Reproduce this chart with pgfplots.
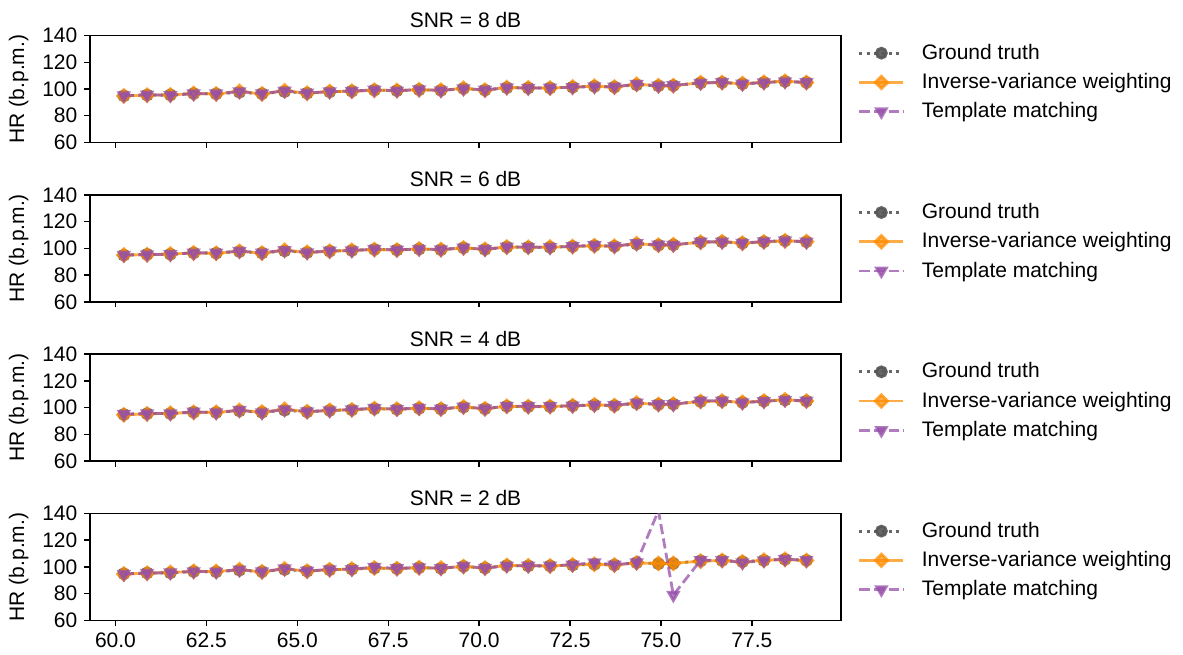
\documentclass[border=0pt]{standalone}
\usepackage{fontspec}
\setmainfont{Liberation Sans}
\usepackage{pgfplots}
\usepackage{pgfplotstable}
\pgfplotsset{compat=1.18}
\usepgfplotslibrary{groupplots}
\definecolor{gtc}{RGB}{85,85,85}
\definecolor{ivw}{RGB}{255,140,0}
\definecolor{tmc}{RGB}{150,80,170}

\pgfplotstableread{
x gt i8 t8 i6 t6 i4 t4 i2 t2
60.23 94.9 94.8 95.1 95.0 94.9 94.6 95.2 94.7 94.6
60.87 95.5 95.4 95.6 95.2 95.3 95.3 95.5 95.3 95.4
61.51 95.6 95.5 95.3 95.7 95.5 95.8 95.6 95.9 95.7
62.15 96.6 96.7 96.5 96.5 96.6 96.4 96.8 96.7 96.6
62.77 96.4 96.3 96.5 96.3 96.6 96.5 96.3 96.6 96.4
63.41 97.6 98.2 98.1 97.8 97.9 97.9 98.1 98.0 97.9
64.03 96.5 96.3 96.6 96.4 96.7 96.6 96.3 96.3 96.5
64.65 98.1 98.7 98.6 98.6 98.5 98.8 98.6 98.6 98.7
65.27 96.9 96.8 97.1 97.0 96.8 96.9 97.1 96.8 97.0
65.89 97.9 98.1 98.0 97.8 98.1 98.0 97.8 97.9 98.1
66.50 98.4 98.3 98.5 98.5 98.3 98.3 98.6 98.4 98.3
67.12 99.2 99.1 99.3 99.0 99.4 99.3 99.6 99.2 99.9
67.74 98.8 98.9 98.7 98.7 98.9 98.8 98.9 98.7 98.9
68.35 99.5 99.4 99.6 99.6 99.4 99.5 99.7 99.4 99.6
68.95 99.0 99.1 98.9 99.0 99.1 98.9 99.1 99.1 99.0
69.57 100.4 100.5 100.3 100.2 100.4 100.5 100.6 100.3 100.5
70.16 99.2 99.1 99.3 99.3 99.2 99.1 99.2 99.2 99.1
70.76 101.0 101.1 101.0 100.9 101.1 101.0 101.2 101.1 100.9
71.35 100.8 100.9 100.7 100.8 101.0 100.7 100.9 100.9 100.8
71.95 100.8 100.7 100.9 100.9 100.7 100.8 101.0 100.7 100.9
72.57 101.4 101.5 101.3 101.3 101.5 101.4 101.3 101.5 101.6
73.17 102.0 102.1 101.9 101.9 102.2 102.1 101.9 102.0 103.3
73.72 101.5 101.4 101.6 101.6 101.5 101.5 101.7 101.4 101.6
74.33 103.2 103.6 103.7 103.5 103.7 103.4 103.6 103.0 103.2
74.93 102.4 102.5 102.3 102.3 102.6 102.4 102.5 102.6 142.0
75.34 102.6 102.5 102.7 102.7 102.5 102.6 102.4 102.7 79.0
76.09 104.6 104.7 104.5 104.5 104.8 104.6 105.1 104.3 105.0
76.68 104.9 104.8 105.0 105.0 104.8 104.9 105.1 104.8 105.0
77.24 103.9 104.0 103.8 103.8 104.0 104.0 103.7 103.7 103.3
77.83 104.9 105.0 104.8 104.8 105.0 104.9 104.7 105.0 104.8
78.41 105.7 105.8 105.6 105.6 105.8 105.9 105.7 105.6 105.8
79.00 104.9 104.8 105.0 105.0 104.8 104.9 105.1 104.8 105.0
}\data

\pgfplotsset{
  gtstyle/.style={color=gtc, opacity=0.9, line width=1.4pt, dash pattern=on 1.4pt off 2.3pt,
    mark=*, mark size=2.5pt, mark options={solid, fill=gtc, draw=gtc}},
  ivwstyle/.style={color=ivw, opacity=0.72, line width=1.4pt, solid,
    mark=square*, mark size=2.2pt, mark options={solid, rotate=45, fill=ivw, draw=ivw}},
  tmstyle/.style={color=tmc, opacity=0.75, line width=1.4pt, dash pattern=on 5.1pt off 2.2pt,
    mark=triangle*, mark size=2.8pt, mark options={solid, rotate=180, fill=tmc, draw=tmc}},
}

\begin{document}
\begin{tikzpicture}[font=\fontsize{10.5}{12.6}\selectfont]
\begin{groupplot}[
  group style={group name=G, group size=1 by 4, vertical sep=26.15pt, xticklabels at=edge bottom},
  scale only axis, width=375.5pt, height=53.5pt,
  xmin=59.3, xmax=79.95, ymin=60, ymax=140,
  xtick={60,62.5,65,67.5,70,72.5,75,77.5},
  ytick={60,80,100,120,140},
  xticklabel style={/pgf/number format/.cd, fixed, fixed zerofill, precision=1},
  /pgf/number format/assume math mode=true,
  tick align=outside, xtick pos=bottom, ytick pos=left,
  major tick length=2.8pt,
  tick style={black, line width=0.7pt},
  axis line style={line width=0.7pt},
  ylabel={HR (b.p.m.)},
  clip marker paths=true,
  legend style={at={(1,0.5)}, anchor=west, xshift=8.5pt, yshift=3.3pt, draw=none, fill=none,
    inner sep=0pt, outer sep=0pt, row sep=5.5pt,
    nodes={inner sep=0pt, outer sep=0pt},
    /tikz/every odd column/.append style={column sep=8.5pt}},
  legend cell align=left,
  legend image code/.code={\draw[mark repeat=2, mark phase=2, #1] plot coordinates {(0pt,0pt) (11pt,0pt) (22pt,0pt)};},
  every axis title/.style={at={(0.5,1)}, anchor=base, yshift=4pt, inner sep=0pt},
]
\nextgroupplot[title={SNR = 8 dB}]
\addplot[gtstyle] table[x=x, y=gt] {\data};
\addplot[ivwstyle] table[x=x, y=i8] {\data};
\addplot[tmstyle] table[x=x, y=t8] {\data};
\legend{Ground truth, Inverse-variance weighting, Template matching}
\nextgroupplot[title={SNR = 6 dB}]
\addplot[gtstyle] table[x=x, y=gt] {\data};
\addplot[ivwstyle] table[x=x, y=i6] {\data};
\addplot[tmstyle] table[x=x, y=t6] {\data};
\legend{Ground truth, Inverse-variance weighting, Template matching}
\nextgroupplot[title={SNR = 4 dB}]
\addplot[gtstyle] table[x=x, y=gt] {\data};
\addplot[ivwstyle] table[x=x, y=i4] {\data};
\addplot[tmstyle] table[x=x, y=t4] {\data};
\legend{Ground truth, Inverse-variance weighting, Template matching}
\nextgroupplot[title={SNR = 2 dB}]
\addplot[gtstyle] table[x=x, y=gt] {\data};
\addplot[ivwstyle] table[x=x, y=i2] {\data};
\addplot[tmstyle] table[x=x, y=t2] {\data};
\legend{Ground truth, Inverse-variance weighting, Template matching}
\end{groupplot}
\path (G c1r1.north west) ++(-45pt,17.75pt);
\path (G c1r4.south east) ++(171pt,-15.8pt);
\end{tikzpicture}
\end{document}
